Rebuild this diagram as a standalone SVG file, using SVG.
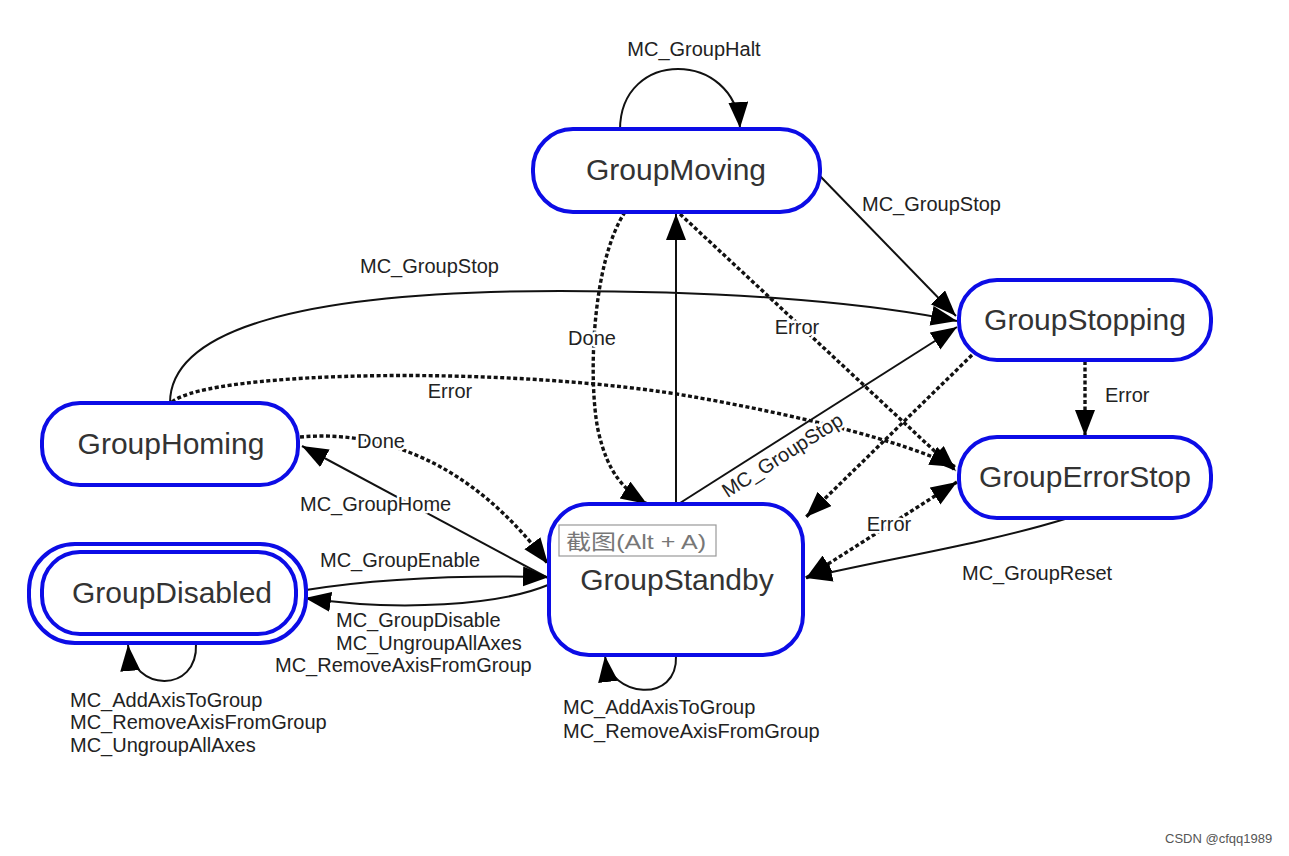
<svg xmlns="http://www.w3.org/2000/svg" width="1289" height="856" viewBox="0 0 1289 856">
<style>
.node{fill:#fff;stroke:#0c0ce6;stroke-width:4}
.nt{font-family:"Liberation Sans",Arial,sans-serif;font-size:30px;fill:#333;text-anchor:middle}
.el{font-family:"Liberation Sans",Arial,sans-serif;font-size:20px;fill:#222;paint-order:stroke;stroke:#fff;stroke-width:5px;stroke-linejoin:round}
.e{fill:none;stroke:#111;stroke-width:2}
.d{fill:none;stroke:#111;stroke-width:3.4;stroke-dasharray:4 2.5}
</style>
<defs>
<marker id="ah" markerUnits="userSpaceOnUse" markerWidth="28" markerHeight="22" refX="26" refY="10" orient="auto-start-reverse"><path d="M0,0 L26,10 L0,20 z" fill="#000"/></marker>
</defs>
<rect width="1289" height="856" fill="#fff"/>
<g id="connectors">
<path class="e" d="M620,130 C620,48 735,50 740,128" marker-end="url(#ah)"/>
<text class="el" x="694" y="56" text-anchor="middle">MC_GroupHalt</text>
<path class="e" d="M820,176 L956,316" marker-end="url(#ah)"/>
<text class="el" x="862" y="211">MC_GroupStop</text>
<path class="e" d="M170,403 C170,330 300,291 560,291 C750,291 880,305 957,321" marker-end="url(#ah)"/>
<text class="el" x="360" y="273">MC_GroupStop</text>
<path class="d" d="M172,402 C210,370 520,365 700,398 C800,416 900,440 956,467" marker-end="url(#ah)"/>
<text class="el" x="450" y="398" text-anchor="middle">Error</text>
<path class="e" d="M548,578 L302,446" marker-end="url(#ah)"/>
<text class="el" x="300" y="511">MC_GroupHome</text>
<path class="d" d="M300,437 C380,430 470,460 548,564" marker-end="url(#ah)"/>
<text class="el" x="381" y="448" text-anchor="middle">Done</text>
<path class="e" d="M306,590 C380,578 460,575 549,577" marker-end="url(#ah)"/>
<text class="el" x="320" y="567">MC_GroupEnable</text>
<path class="e" d="M548,585 C500,605 400,612 305,598" marker-end="url(#ah)"/>
<text class="el" x="336" y="627">MC_GroupDisable</text>
<text class="el" x="336" y="650">MC_UngroupAllAxes</text>
<text class="el" x="275" y="672">MC_RemoveAxisFromGroup</text>
<path class="e" d="M196,644 C198,694 132,692 128,645" marker-end="url(#ah)"/>
<text class="el" x="70" y="707">MC_AddAxisToGroup</text>
<text class="el" x="70" y="729">MC_RemoveAxisFromGroup</text>
<text class="el" x="70" y="752">MC_UngroupAllAxes</text>
<path class="e" d="M676,656 C678,704 610,698 605,656" marker-end="url(#ah)"/>
<text class="el" x="563" y="714">MC_AddAxisToGroup</text>
<text class="el" x="563" y="738">MC_RemoveAxisFromGroup</text>
<path class="d" d="M625,212 C592,262 588,380 598,430 C608,475 625,490 647,504" marker-end="url(#ah)"/>
<text class="el" x="592" y="345" text-anchor="middle">Done</text>
<path class="e" d="M676,503 L676,214" marker-end="url(#ah)"/>
<path class="d" d="M680,214 L956,471" marker-end="url(#ah)"/>
<text class="el" x="797" y="334" text-anchor="middle">Error</text>
<path class="e" d="M680,503 L957,327" marker-end="url(#ah)"/>
<text class="el" x="786" y="461" text-anchor="middle" transform="rotate(-32.5 786 461)">MC_GroupStop</text>
<path class="d" d="M972,355 L806,517" marker-end="url(#ah)"/>
<path class="d" d="M1085,361 L1085,436" marker-end="url(#ah)"/>
<text class="el" x="1105" y="402">Error</text>
<path class="d" d="M806,578 L957,482" marker-start="url(#ah)" marker-end="url(#ah)"/>
<text class="el" x="889" y="531" text-anchor="middle">Error</text>
<path class="e" d="M1065,519 C980,545 880,560 806,578" marker-end="url(#ah)"/>
<text class="el" x="962" y="580">MC_GroupReset</text>
</g>
<g id="GroupMoving">
<rect class="node" x="533" y="129" width="287" height="83" rx="40"/>
<text class="nt" x="676" y="180">GroupMoving</text>
</g>
<g id="GroupStopping">
<rect class="node" x="959" y="280" width="252" height="80" rx="38"/>
<text class="nt" x="1085" y="330">GroupStopping</text>
</g>
<g id="GroupErrorStop">
<rect class="node" x="959" y="437" width="252" height="81" rx="38"/>
<text class="nt" x="1085" y="487">GroupErrorStop</text>
</g>
<g id="GroupHoming">
<rect class="node" x="42" y="403" width="256" height="82" rx="38"/>
<text class="nt" x="171" y="454">GroupHoming</text>
</g>
<g id="GroupDisabled">
<rect class="node" x="29" y="544" width="277" height="99" rx="46"/>
<rect class="node" x="42" y="552" width="254" height="82" rx="38"/>
<text class="nt" x="172" y="603">GroupDisabled</text>
</g>
<g id="GroupStandby">
<rect class="node" x="549" y="504" width="254" height="151" rx="40"/>
<text class="nt" x="677" y="590">GroupStandby</text>
<rect x="559" y="525" width="157" height="31" fill="#fff" stroke="#999" stroke-width="1.2"/>
<text x="566" y="549" font-family="'Liberation Sans','Noto Sans CJK SC',sans-serif" font-size="21" fill="#777" textLength="140" lengthAdjust="spacingAndGlyphs">截图(Alt + A)</text>
</g>
<text x="1165" y="843" font-family="'Liberation Sans',Arial,sans-serif" font-size="13" fill="#555">CSDN @cfqq1989</text>
</svg>
